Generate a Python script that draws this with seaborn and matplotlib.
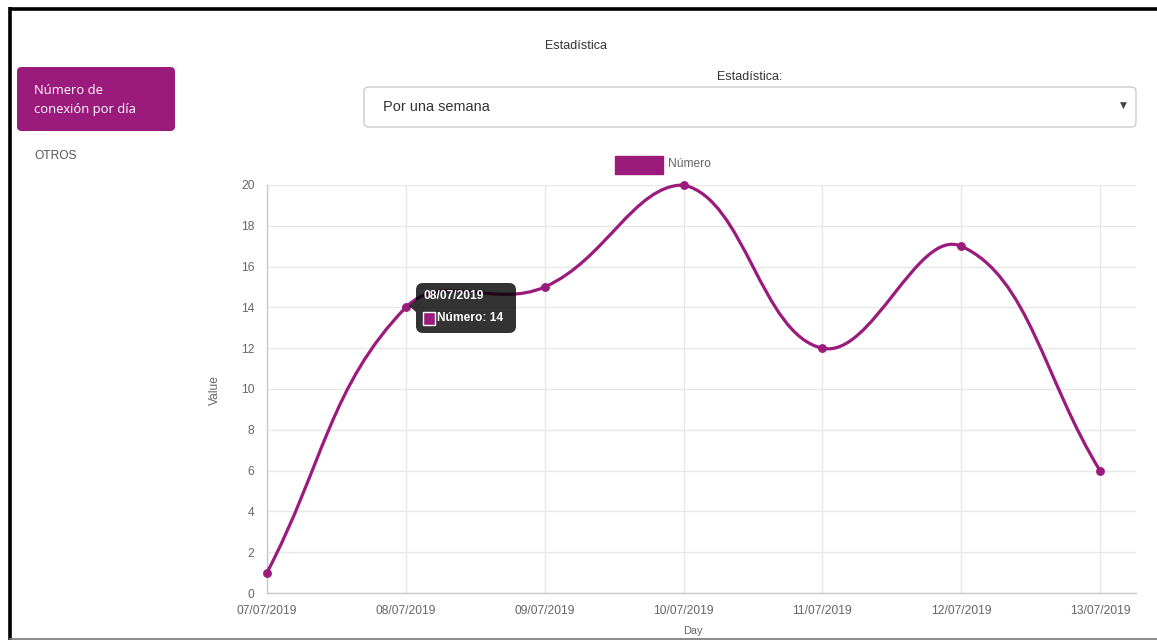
import numpy as np
import pandas as pd
import matplotlib
matplotlib.use("Agg")
import matplotlib.pyplot as plt
from matplotlib.patches import FancyBboxPatch, Rectangle, PathPatch, Polygon
from matplotlib.path import Path
from matplotlib.lines import Line2D
import seaborn as sns

# ---- data -------------------------------------------------------------
days = ["07/07/2019", "08/07/2019", "09/07/2019", "10/07/2019",
        "11/07/2019", "12/07/2019", "13/07/2019"]
numero = [1, 14, 15, 20, 12, 17, 6]
y_ticks = [0, 2, 4, 6, 8, 10, 12, 14, 16, 18, 20]
series_name = "Número"
hover_index = 1

PURPLE = "#9b1b7d"
W, H = 1157, 640

sns.set_theme(style="white")
plt.rcParams["font.family"] = ["Liberation Sans", "DejaVu Sans"]


def px(x, y):
    """page pixel -> figure fraction"""
    return x / W, 1 - y / H


def pt(pxsize):
    return pxsize * 0.72


fig = plt.figure(figsize=(W / 100, H / 100), dpi=100)
fig.patch.set_facecolor("white")

# ---- chart area -------------------------------------------------------
left, right, top, bottom = 267, 1136, 185, 593
step = (1100 - 267) / (len(days) - 1)
ax = fig.add_axes([left / W, 1 - bottom / H, (right - left) / W, (bottom - top) / H])
ax.set_xlim(0, (right - left) / step)
ax.set_ylim(0, 20)
ax.set_xticks(range(len(days)))
ax.set_xticklabels(days)
ax.set_yticks(y_ticks)
ax.set_yticklabels([str(v) for v in y_ticks])
ax.grid(True, color="#e8e8e8", linewidth=1)
ax.set_axisbelow(True)
for s in ["top", "right"]:
    ax.spines[s].set_visible(False)
for s in ["left", "bottom"]:
    ax.spines[s].set_color("#c9c9c9")
    ax.spines[s].set_linewidth(1)
ax.tick_params(axis="both", direction="out", length=6, width=1, color="#dcdcdc",
               labelsize=pt(12), labelcolor="#666666", pad=3)

df = pd.DataFrame({"day": np.arange(len(days)), "value": numero})

# smooth curve: cubic Bezier with tension 0.4, control points capped to the plot area
fig.canvas.draw()
pts = ax.transData.transform(df[["day", "value"]].to_numpy(float))
bb = ax.get_window_extent()
tension = 0.4
ctrl_prev, ctrl_next = [], []
n = len(pts)
for i in range(n):
    prev = pts[i - 1] if i > 0 else pts[i]
    cur = pts[i]
    nxt = pts[i + 1] if i < n - 1 else pts[i]
    d01 = np.hypot(*(cur - prev))
    d12 = np.hypot(*(nxt - cur))
    tot = d01 + d12
    s01 = d01 / tot if tot else 0
    s12 = d12 / tot if tot else 0
    fa, fb = tension * s01, tension * s12
    cp = cur - fa * (nxt - prev)
    cn = cur + fb * (nxt - prev)
    cp = np.array([np.clip(cp[0], bb.x0, bb.x1), np.clip(cp[1], bb.y0, bb.y1)])
    cn = np.array([np.clip(cn[0], bb.x0, bb.x1), np.clip(cn[1], bb.y0, bb.y1)])
    ctrl_prev.append(cp)
    ctrl_next.append(cn)

inv = ax.transData.inverted()
verts = [inv.transform(pts[0])]
codes = [Path.MOVETO]
for i in range(1, n):
    verts += [inv.transform(ctrl_next[i - 1]), inv.transform(ctrl_prev[i]), inv.transform(pts[i])]
    codes += [Path.CURVE4] * 3
ax.add_patch(PathPatch(Path(verts, codes), facecolor="none", edgecolor=PURPLE,
                       linewidth=2.3, clip_on=False, zorder=3, capstyle="round"))

sns.scatterplot(data=df, x="day", y="value", ax=ax, color=PURPLE, s=34,
                edgecolor=PURPLE, linewidth=0.5, zorder=4, clip_on=False, legend=False)
ax.set_xlabel("")
ax.set_ylabel("")

# axis titles
fig.text(*px(215, 390), "Value", rotation=90, ha="center", va="center",
         fontsize=pt(12), color="#666666")
fig.text(*px(693, 636), "Day", ha="center", va="bottom", fontsize=pt(11), color="#666666")

# legend
fig.add_artist(Rectangle(px(615, 174), 48 / W, 18 / H, transform=fig.transFigure,
                         facecolor=PURPLE, edgecolor=PURPLE, linewidth=1))
fig.text(*px(668, 164), series_name, ha="left", va="center", fontsize=pt(12), color="#666666")

# tooltip for the hovered point
tx0, ty0, tx1, ty1 = 416, 283, 516, 333
fig.add_artist(FancyBboxPatch(px(tx0, ty1), (tx1 - tx0) / W, (ty1 - ty0) / H,
                              boxstyle="round,pad=0,rounding_size=0.006",
                              transform=fig.transFigure, facecolor="black",
                              edgecolor="none", alpha=0.8, mutation_aspect=W / H))
fig.add_artist(Polygon([px(tx0, 300), px(409, 306), px(tx0, 312)], closed=True,
                       transform=fig.transFigure, facecolor="black", edgecolor="none",
                       alpha=0.8))
fig.text(*px(423, 296), days[hover_index], ha="left", va="center", fontsize=pt(12),
         color="white", fontweight="bold")
fig.add_artist(Rectangle(px(423, 325), 12 / W, 13 / H, transform=fig.transFigure,
                         facecolor=PURPLE, edgecolor="white", linewidth=1))
fig.text(*px(437, 318), f"{series_name}: {numero[hover_index]}", ha="left", va="center",
         fontsize=pt(12), color="white", fontweight="bold")

# ---- page elements ----------------------------------------------------
fig.text(*px(576, 46), "Estadística", ha="center", va="center", fontsize=pt(12.5), color="#333333")
fig.text(*px(750, 77), "Estadística:", ha="center", va="center", fontsize=pt(12.5), color="#333333")
fig.add_artist(FancyBboxPatch(px(364, 127), (1136 - 364) / W, 40 / H,
                              boxstyle="round,pad=0,rounding_size=0.004",
                              transform=fig.transFigure, facecolor="white",
                              edgecolor="#cccccc", linewidth=1, mutation_aspect=W / H))
fig.text(*px(383, 107), "Por una semana", ha="left", va="center", fontsize=pt(14.5), color="#333333")
fig.text(*px(1123, 105), "▼", ha="center", va="center", fontsize=pt(9), color="#444444",
         family="DejaVu Sans")

# sidebar menu
fig.add_artist(FancyBboxPatch(px(17, 131), (175 - 17) / W, 64 / H,
                              boxstyle="round,pad=0,rounding_size=0.004",
                              transform=fig.transFigure, facecolor=PURPLE,
                              edgecolor="none", mutation_aspect=W / H))
fig.text(*px(34, 90), "Número de", ha="left", va="center", fontsize=pt(13), color="white",
         family=["Open Sans", "DejaVu Sans"])
fig.text(*px(34, 110), "conexión por día", ha="left", va="center", fontsize=pt(13), color="white",
         family=["Open Sans", "DejaVu Sans"])
fig.text(*px(34, 156), "OTROS", ha="left", va="center", fontsize=pt(12), color="#555555")

# window frame
fig.add_artist(Line2D([9 / W, 1], [1 - 8.5 / H] * 2, transform=fig.transFigure,
                      color="black", linewidth=2.6, solid_capstyle="butt"))
fig.add_artist(Line2D([9.5 / W] * 2, [0, 1 - 7 / H], transform=fig.transFigure,
                      color="black", linewidth=2.6, solid_capstyle="butt"))
fig.add_artist(Line2D([9 / W, 1], [1 - 638.5 / H] * 2, transform=fig.transFigure,
                      color="#777777", linewidth=1.2, solid_capstyle="butt"))

fig.savefig("out.png", dpi=100, facecolor="white")
